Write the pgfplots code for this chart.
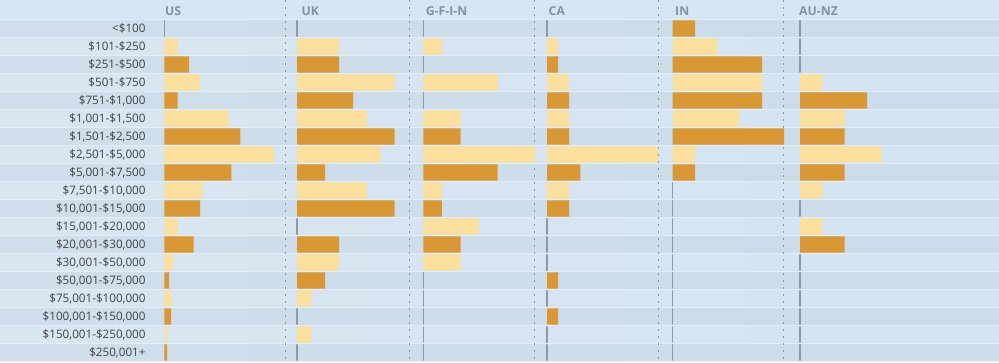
\documentclass[border=0pt]{standalone}
\usepackage{pgfplots}
\pgfplotsset{compat=1.18}
\usepackage{fontspec}
\setmainfont{Open Sans}
\definecolor{orangebar}{HTML}{D99834}
\definecolor{lightbar}{HTML}{FAE09C}
\definecolor{zerocol}{HTML}{8A9AA8}
\definecolor{sepcol}{HTML}{E3EDF7}
\definecolor{headcol}{HTML}{D5E6F4}
\definecolor{darkL}{HTML}{CFDEEA}
\definecolor{darkM}{HTML}{D6E2EC}
\definecolor{darkR}{HTML}{CBDCEA}
\definecolor{lightL}{HTML}{D8E6F1}
\definecolor{lightM}{HTML}{DFEAF4}
\definecolor{lightR}{HTML}{D4E4F1}
\definecolor{labelcol}{HTML}{424242}
\definecolor{headtext}{HTML}{8393A0}
\definecolor{dotcol}{HTML}{8C969F}
\newcommand\lblfont{\fontsize{11.7}{13}\selectfont}
\tikzset{head/.style={anchor=base west, inner sep=0pt, text=headtext, font=\fontsize{12.3}{14}\selectfont\bfseries}}
\pgfplotsset{panel/.style={x=1bp, y=18bp, xmin=0, xmax=120, ymin=0.5, ymax=19.5,
  y dir=reverse, scale only axis, anchor=south west, clip=false,
  xbar, bar width=16.3bp, bar shift=0pt,
  axis line style={draw=none}, xtick=\empty, ytick=\empty, major tick length=0pt}}
\begin{document}
\begin{tikzpicture}[x=1bp,y=1bp]
% background
\fill[sepcol] (0,0) rectangle (999,362);
\fill[headcol] (0,342.6) rectangle (999,362);
\foreach \i in {1,...,19}{
  \pgfmathsetmacro\yc{362-28.5-(\i-1)*18}
  \pgfmathtruncatemacro\odd{mod(\i,2)}
  \ifnum\odd=1
    \shade[left color=darkL, middle color=darkM, right color=darkR] (0,\yc-8.15) rectangle (999,\yc+8.15);
  \else
    \shade[left color=lightL, middle color=lightM, right color=lightR] (0,\yc-8.15) rectangle (999,\yc+8.15);
  \fi
}
\foreach \xs in {285.3,409.7,534.5,658.8,783.7}{
  \draw[dotcol, line width=1.2bp, dash pattern=on 2bp off 5bp] (\xs,362) -- (\xs,0);
}
\node[head] at (165,346.3) {US};
\node[head] at (301.5,346.3) {UK};
\node[head] at (425.7,346.3) {G-F-I-N};
\node[head] at (548.5,346.3) {CA};
\node[head] at (675,346.3) {IN};
\node[head] at (799,346.3) {AU-NZ};
% US
\begin{axis}[panel, at={(164.3bp,0.5bp)},
  ytick={1,...,19},
  yticklabels={{<\$100},{\$101-\$250},{\$251-\$500},{\$501-\$750},{\$751-\$1,000},{\$1,001-\$1,500},{\$1,501-\$2,500},{\$2,501-\$5,000},{\$5,001-\$7,500},{\$7,501-\$10,000},{\$10,001-\$15,000},{\$15,001-\$20,000},{\$20,001-\$30,000},{\$30,001-\$50,000},{\$50,001-\$75,000},{\$75,001-\$100,000},{\$100,001-\$150,000},{\$150,001-\$250,000},{\$250,001+}},
  yticklabel style={anchor=east, inner sep=0pt, xshift=-18.6bp, text=labelcol, font=\lblfont}]
\addplot[draw=zerocol, line width=1.2bp] coordinates {(0,1)};
\addplot[fill=orangebar, draw=none] coordinates {(24.7,3) (13.3,5) (76,7) (67,9) (35.7,11) (29.3,13) (4.7,15) (6.7,17) (2.7,19)};
\addplot[fill=lightbar, draw=none] coordinates {(13.3,2) (35.7,4) (64.3,6) (109.3,8) (38,10) (13.3,12) (8.7,14) (6.7,16) (2.7,18)};
\end{axis}
% UK
\begin{axis}[panel, at={(297bp,0.5bp)}]
\addplot[draw=zerocol, line width=1.2bp] coordinates {(0,1) (0,12) (0,17) (0,19)};
\addplot[fill=orangebar, draw=none] coordinates {(42,3) (56,5) (97.7,7) (28,9) (97.7,11) (42,13) (28,15)};
\addplot[fill=lightbar, draw=none] coordinates {(42,2) (97.7,4) (70,6) (83.7,8) (70,10) (42,14) (14,16) (14,18)};
\end{axis}
% G-F-I-N
\begin{axis}[panel, at={(423.3bp,0.5bp)}]
\addplot[draw=zerocol, line width=1.2bp] coordinates {(0,1) (0,3) (0,5) (0,15) (0,16) (0,17) (0,18) (0,19)};
\addplot[fill=orangebar, draw=none] coordinates {(37.2,7) (74.4,9) (18.6,11) (37.2,13)};
\addplot[fill=lightbar, draw=none] coordinates {(18.6,2) (74.4,4) (37.2,6) (111.6,8) (18.6,10) (55.8,12) (37.2,14)};
\end{axis}
% CA
\begin{axis}[panel, at={(547bp,0.5bp)}]
\addplot[draw=zerocol, line width=1.2bp] coordinates {(0,1) (0,12) (0,13) (0,14) (0,16) (0,18) (0,19)};
\addplot[fill=orangebar, draw=none] coordinates {(11.1,3) (22.2,5) (22.2,7) (33.3,9) (22.2,11) (11.1,15) (11.1,17)};
\addplot[fill=lightbar, draw=none] coordinates {(11.1,2) (22.2,4) (22.2,6) (111,8) (22.2,10)};
\end{axis}
% IN
\begin{axis}[panel, at={(672.7bp,0.5bp)}]
\addplot[draw=zerocol, line width=1.2bp] coordinates {(0,10) (0,11) (0,12) (0,13) (0,14) (0,15) (0,16) (0,17) (0,18) (0,19)};
\addplot[fill=orangebar, draw=none] coordinates {(22.3,1) (89.3,3) (89.3,5) (111.3,7) (22.3,9)};
\addplot[fill=lightbar, draw=none] coordinates {(44.7,2) (89.3,4) (66.7,6) (22.3,8)};
\end{axis}
% AU-NZ
\begin{axis}[panel, at={(800bp,0.5bp)}]
\addplot[draw=zerocol, line width=1.2bp] coordinates {(0,1) (0,2) (0,3) (0,11) (0,14) (0,15) (0,16) (0,17) (0,18) (0,19)};
\addplot[fill=orangebar, draw=none] coordinates {(67,5) (44.7,7) (44.7,9) (44.7,13)};
\addplot[fill=lightbar, draw=none] coordinates {(22.3,4) (44.7,6) (81.3,8) (22.3,10) (22.3,12)};
\end{axis}
\pgfresetboundingbox
\path[use as bounding box] (0,0) rectangle (999,362);
\end{tikzpicture}
\end{document}
